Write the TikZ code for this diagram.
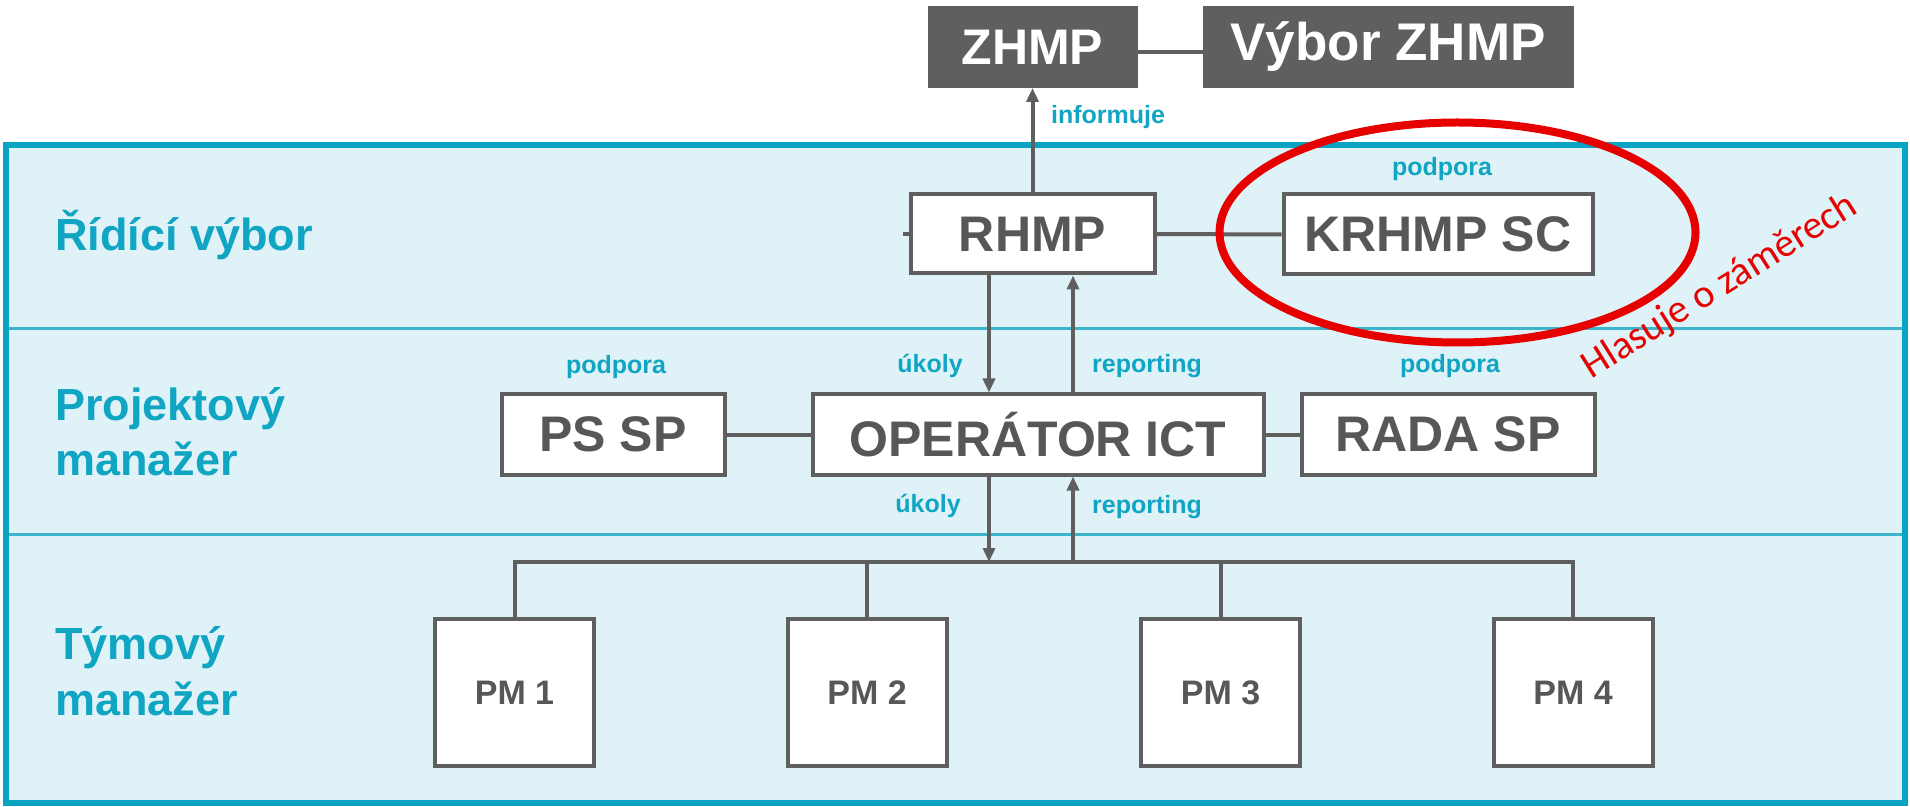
\documentclass[tikz,border=0pt]{standalone}
\usepackage{fontspec}
\setmainfont{Liberation Sans}
\newfontfamily\calfont{Carlito}
\usetikzlibrary{arrows.meta}
\definecolor{frameC}{HTML}{0AA3C2}
\definecolor{divC}{HTML}{3DB3CC}
\definecolor{bgC}{HTML}{DFF2F7}
\definecolor{labC}{HTML}{0FA5C3}
\definecolor{boxC}{HTML}{5F5F5F}
\definecolor{txtC}{HTML}{575757}
\definecolor{redC}{HTML}{E60000}
\begin{document}
\begin{tikzpicture}[x=0.5pt,y=-0.5pt,
  wbox/.style={draw=boxC, line width=2pt, fill=white, font=\fontsize{25}{30}\selectfont\bfseries, text=txtC, inner sep=0pt},
  dbox/.style={draw=boxC, fill=boxC, line width=1pt, font=\fontsize{25}{30}\selectfont\bfseries, text=white, inner sep=0pt},
  pmbox/.style={wbox, font=\fontsize{17}{20}\selectfont\bfseries, minimum width=79.5pt, minimum height=73.5pt},
  lab/.style={font=\fontsize{12.5}{15}\selectfont\bfseries, text=labC, inner sep=0pt},
  rowlab/.style={font=\fontsize{22.5}{27}\selectfont\bfseries, text=labC, anchor=base west, inner sep=0pt},
  conn/.style={draw=boxC, line width=2pt},
  arr/.style={conn, -{Triangle[length=7pt,width=6pt]}},
]
\useasboundingbox (0,0) rectangle (1910,807);
% background frame
\fill[bgC] (6,145) rectangle (1905,803);
\draw[divC, line width=1.5pt] (6,329) -- (1905,329);
\draw[divC, line width=1.5pt] (6,534) -- (1905,534);
\draw[frameC, line width=3.2pt] (6,145) rectangle (1905,803);

% row labels
\node[rowlab] (r1) at (55,251) {Řídící výbor};
\node[rowlab] (r2a) at (55,421) {Projektový};
\node[rowlab] (r2b) at (55,475) {manažer};
\node[rowlab] (r3a) at (55,659) {Týmový};
\node[rowlab] (r3b) at (55,715) {manažer};

% boxes
\node[dbox, minimum width=104pt, minimum height=40pt] (zhmp) at (1032.5,47) {ZHMP};
\node[dbox, minimum width=184.5pt, minimum height=40pt, font=\fontsize{26.5}{30}\selectfont\bfseries] (vybor) at (1388,47) {Výbor ZHMP};
\node[wbox, minimum width=122pt, minimum height=39.5pt] (rhmp) at (1032.5,234) {RHMP};
\node[wbox, minimum width=154.5pt, minimum height=40pt] (krhmp) at (1438,234.5) {KRHMP SC};
\node[wbox, minimum width=111.5pt, minimum height=40pt] (pssp) at (613,434.5) {PS SP};
\node[wbox, minimum width=225.5pt, minimum height=40pt] (oper) at (1038,434.5) {OPERÁTOR ICT};
\node[wbox, minimum width=146.5pt, minimum height=40pt] (rada) at (1448,434.5) {RADA SP};
\node[pmbox] (pm1) at (514.5,692.5) {PM 1};
\node[pmbox] (pm2) at (867,692.5) {PM 2};
\node[pmbox] (pm3) at (1220.5,692.5) {PM 3};
\node[pmbox] (pm4) at (1573,692.5) {PM 4};

% helper coordinates
\coordinate (xa) at (989,0);
\coordinate (xb) at (1073,0);
\coordinate (busy) at (0,562);
\coordinate (topy) at (0,52);

% connectors
\draw[conn] (zhmp.east |- topy) -- (vybor.west |- topy);
\draw[arr] (rhmp.north) -- (zhmp.south);
\draw[conn] (rhmp.east) -- (krhmp.west);
\draw[conn] (rhmp.west) -- ++(-6,0);
\draw[conn] (pssp.east) -- (oper.west);
\draw[conn] (oper.east) -- (rada.west);
\draw[arr] (rhmp.south -| xa) -- (oper.north -| xa);
\draw[arr] (oper.north -| xb) -- (rhmp.south -| xb);
\draw[arr] (oper.south -| xa) -- (xa |- busy);
\draw[arr] (xb |- busy) -- (oper.south -| xb);
\draw[conn, line join=miter] (pm1.north) -- (pm1.north |- busy) -- (pm4.north |- busy) -- (pm4.north);
\draw[conn] (pm2.north) -- (pm2.north |- busy);
\draw[conn] (pm3.north) -- (pm3.north |- busy);

% labels
\node[lab] (informuje) at (1108,117) {informuje};
\node[lab] (pod1) at (1442,169) {podpora};
\node[lab] (pod2) at (616,367) {podpora};
\node[lab] (pod3) at (1450,366) {podpora};
\node[lab] (uk1) at (930,366) {úkoly};
\node[lab] (rep1) at (1147,366) {reporting};
\node[lab] (uk2) at (928,506) {úkoly};
\node[lab] (rep2) at (1147,507) {reporting};

% red annotation
\draw[redC, line width=4pt] (1457.5,232.5) ellipse [x radius=238, y radius=110];
\node[text=redC, font=\calfont\fontsize{20}{24}\selectfont, rotate=32, inner sep=0pt] (hlas) at (1720,287) {Hlasuje o záměrech};
\end{tikzpicture}
\end{document}
